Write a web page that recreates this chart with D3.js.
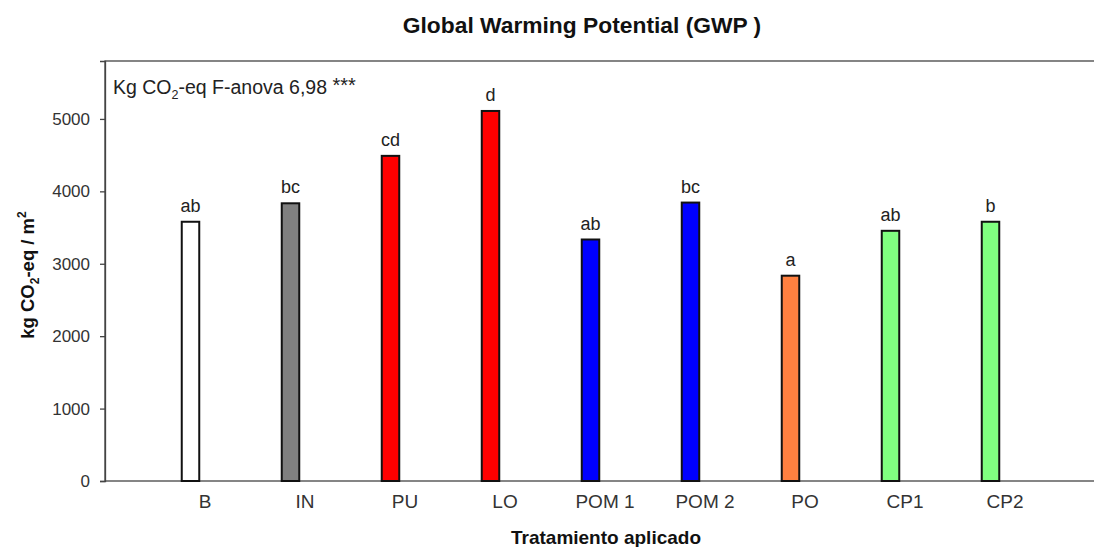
<!DOCTYPE html>
<html>
<head>
<meta charset="utf-8">
<script src="https://cdn.jsdelivr.net/npm/d3@7/dist/d3.min.js"></script>
<style>
  html, body { margin: 0; padding: 0; background: #fff; }
  svg { display: block; font-family: "Liberation Sans", Arial, sans-serif; }
</style>
</head>
<body>
<svg id="chart" width="1094" height="547"></svg>
<script>
// Treatments, GWP values (kg CO2-eq / m2) and Tukey group letters
const categories = ["B", "IN", "PU", "LO", "POM 1", "POM 2", "PO", "CP1", "CP2"];
const values = [3580, 3835, 4490, 5110, 3335, 3845, 2835, 3455, 3580];
const groups = ["ab", "bc", "cd", "d", "ab", "bc", "a", "ab", "b"];
const fills = ["#ffffff", "#808080", "#ff0000", "#ff0000", "#0000ff", "#0000ff", "#ff8040", "#80ff80", "#80ff80"];
const yTicks = [0, 1000, 2000, 3000, 4000, 5000];

const svg = d3.select("#chart");
const plot = { left: 105, top: 61, right: 1098, bottom: 481 };

const x = d3.scaleBand().domain(categories).range([155, 1055]).padding(0);
const y = d3.scaleLinear().domain([0, 5800]).range([plot.bottom, plot.top]);

const barW = 17.5;
const barShift = -14.5; // bars sit a little left of each category label

// Title
svg.append("text")
  .attr("x", 582).attr("y", 33)
  .attr("text-anchor", "middle")
  .attr("font-size", 22.8).attr("font-weight", "bold")
  .attr("fill", "#111")
  .text("Global Warming Potential (GWP )");

// Plot frame
svg.append("rect")
  .attr("x", plot.left).attr("y", plot.top)
  .attr("width", plot.right - plot.left).attr("height", plot.bottom - plot.top)
  .attr("fill", "none").attr("stroke", "#444").attr("stroke-width", 1.3);

// Y axis
const yAxis = svg.append("g")
  .attr("transform", `translate(${plot.left},0)`)
  .call(d3.axisLeft(y).tickValues(yTicks).tickSize(5).tickPadding(10).tickFormat(d3.format("d")));
yAxis.select(".domain").attr("stroke", "#444").attr("stroke-width", 1.3);
yAxis.selectAll(".tick line").attr("stroke", "#444").attr("stroke-width", 1.3);
yAxis.selectAll(".tick text")
  .attr("font-size", 17).attr("fill", "#333")
  .attr("font-family", "'Liberation Sans', Arial, sans-serif");

// X axis labels
const xAxis = svg.append("g")
  .attr("transform", `translate(0,${plot.bottom})`)
  .call(d3.axisBottom(x).tickSize(0).tickPadding(14));
xAxis.select(".domain").remove();
xAxis.selectAll(".tick text")
  .attr("font-size", 19).attr("fill", "#333")
  .attr("font-family", "'Liberation Sans', Arial, sans-serif")
  .attr("dy", "0.71em");

// Bars
svg.append("g").selectAll("rect")
  .data(categories)
  .join("rect")
  .attr("x", (d) => x(d) + x.bandwidth() / 2 + barShift - barW / 2)
  .attr("y", (d, i) => y(values[i]))
  .attr("width", barW)
  .attr("height", (d, i) => y(0) - y(values[i]))
  .attr("fill", (d, i) => fills[i])
  .attr("stroke", "#111")
  .attr("stroke-width", 2);

// Group letters above bars
svg.append("g").selectAll("text")
  .data(categories)
  .join("text")
  .attr("x", (d) => x(d) + x.bandwidth() / 2 + barShift)
  .attr("y", (d, i) => y(values[i]) - 10)
  .attr("text-anchor", "middle")
  .attr("font-size", 18).attr("fill", "#222")
  .text((d, i) => groups[i]);

// ANOVA note
const note = svg.append("text")
  .attr("x", 113).attr("y", 94)
  .attr("font-size", 19.5).attr("fill", "#222");
note.append("tspan").text("Kg CO");
note.append("tspan").attr("font-size", 12.5).attr("dy", 5).text("2");
note.append("tspan").attr("dy", -5).text("-eq F-anova 6,98 ");
note.append("tspan").attr("font-size", 20).attr("dy", -2).text("***");

// Y axis title
const yTitle = svg.append("text")
  .attr("transform", "translate(34,275) rotate(-90)")
  .attr("text-anchor", "middle")
  .attr("font-size", 18.5).attr("font-weight", "bold").attr("fill", "#111");
yTitle.append("tspan").text("kg CO");
yTitle.append("tspan").attr("font-size", 12).attr("dy", 5).text("2");
yTitle.append("tspan").attr("dy", -5).text("-eq / m");
yTitle.append("tspan").attr("font-size", 12).attr("dy", -8).text("2");

// X axis title
svg.append("text")
  .attr("x", 606).attr("y", 544)
  .attr("text-anchor", "middle")
  .attr("font-size", 19).attr("font-weight", "bold").attr("fill", "#111")
  .text("Tratamiento aplicado");
</script>
</body>
</html>
